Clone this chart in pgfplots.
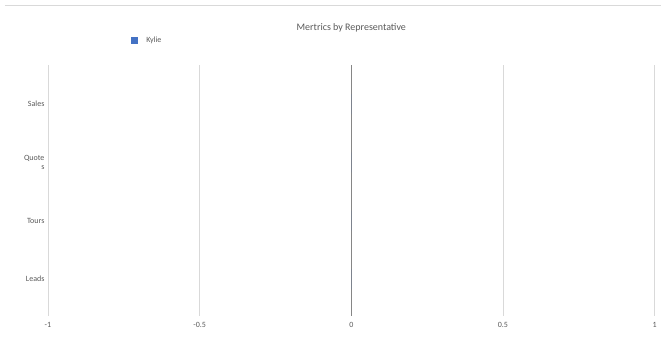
\documentclass[border=0pt]{standalone}
\usepackage{pgfplots}
\pgfplotsset{compat=1.18}
\usepackage{fontspec}
\setmainfont{Carlito}
\definecolor{txt}{HTML}{595959}
\definecolor{gridc}{HTML}{D9D9D9}
\definecolor{zeroc}{HTML}{868686}
\definecolor{barblue}{HTML}{4472C4}
\begin{document}
\begin{tikzpicture}
\begin{axis}[
  scale only axis,
  width=607pt, height=251pt,
  xmin=-1, xmax=1,
  ymin=-0.63, ymax=3.67,
  xtick={-1,-0.5,0,0.5,1},
  xticklabels={-1,-0.5,0,0.5,1},
  ytick={0,1,2,3},
  yticklabels={Leads,Tours,{Quote\\s},Sales},
  yticklabel style={align=right, font=\fontsize{8}{9.5}\selectfont, text=txt},
  xticklabel style={font=\fontsize{8}{9.5}\selectfont, text=txt, yshift=-3pt},
  xmajorgrids,
  grid style={gridc, line width=0.8pt},
  axis line style={draw=none},
  major tick length=0pt,
  extra x ticks={0},
  extra x tick labels={},
  extra x tick style={grid style={zeroc, line width=1.3pt}},
  title={Mertrics by Representative},
  title style={at={(0.5,1)}, anchor=center, yshift=31pt, font=\fontsize{10}{12}\selectfont, text=txt},
  legend style={at={(0.137,1.096)}, anchor=west, draw=none, fill=none, inner sep=0pt,
    font=\fontsize{8}{9}\selectfont, text=txt, legend cell align=left},
  xbar, bar width=20pt,
  clip=false,
]
\addplot[fill=barblue, draw=none,
  legend image code/.code={\fill[barblue] (0pt,-3.5pt) rectangle (7pt,3.5pt); \path (13pt,0pt);}]
  coordinates {(0,0) (0,1) (0,2) (0,3)};
\addlegendentry{Kylie}
\end{axis}
\draw[gridc, line width=0.8pt] ([shift={(-43pt,311pt)}]current axis.south west) -- ([shift={(613pt,311pt)}]current axis.south west);
\useasboundingbox ([shift={(-48pt,-33pt)}]current axis.south west) rectangle ([shift={(613pt,316pt)}]current axis.south west);
\end{tikzpicture}
\end{document}
